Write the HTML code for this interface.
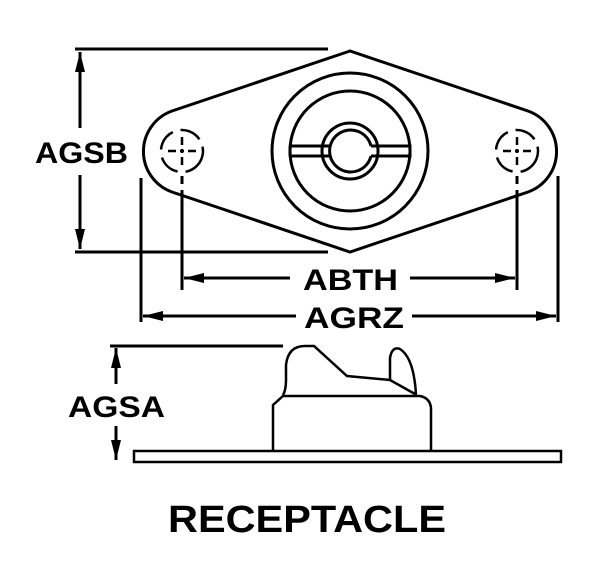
<!DOCTYPE html>
<html><head><style>body{margin:0;background:#fff}</style></head><body>
<svg width="603" height="569" viewBox="0 0 603 569" xmlns="http://www.w3.org/2000/svg" font-family="Liberation Sans, sans-serif" font-weight="bold">
<defs><marker id="b" viewBox="0 0 20 10" markerWidth="20" markerHeight="10" refX="20" refY="5" orient="auto" markerUnits="userSpaceOnUse"><path d="M0,0 L20,5 L0,10 Z" fill="#000"/></marker></defs>
<g fill="none" stroke="#000" stroke-width="3">
<line x1="75" y1="49" x2="328" y2="49"/><line x1="75" y1="252" x2="328" y2="252"/>
<line x1="80" y1="70" x2="80" y2="52" marker-end="url(#b)"/><line x1="80" y1="230" x2="80" y2="249" marker-end="url(#b)"/>
<line x1="80" y1="70" x2="80" y2="128"/><line x1="80" y1="175" x2="80" y2="230"/>
<path d="M350,51 L172,111 A43,43 0 0 0 172,192 L350,252 L528,192 A43,43 0 0 0 528,111 Z"/>
<circle cx="350" cy="151" r="78"/><circle cx="350" cy="151" r="60"/>
<circle cx="350" cy="151" r="28"/><path d="M371,146 A21,21 0 1 0 371,156"/>
<path d="M290,146 H329 M290,156 H329 M290,146 V156 M371,146 H410 V156 H371"/>
<g stroke-width="2.5"><circle cx="182" cy="151" r="21" stroke-dasharray="22,8" transform="rotate(20 182 151)"/><circle cx="517" cy="151" r="21" stroke-dasharray="22,8" transform="rotate(20 517 151)"/>
<path d="M168,151h8M180,151h4M188,151h8M182,137v8M182,149v4M182,157v8M503,151h8M515,151h4M523,151h8M517,137v8M517,149v4M517,157v8"/></g>
<line x1="141" y1="178" x2="141" y2="322"/><line x1="558" y1="176" x2="558" y2="322"/>
<line x1="182" y1="176" x2="182" y2="184"/><line x1="182" y1="190" x2="182" y2="290"/>
<line x1="517" y1="176" x2="517" y2="184"/><line x1="517" y1="190" x2="517" y2="290"/>
<line x1="200" y1="278" x2="184" y2="278" marker-end="url(#b)"/><line x1="200" y1="278" x2="290" y2="278"/>
<line x1="500" y1="278" x2="515" y2="278" marker-end="url(#b)"/><line x1="410" y1="278" x2="500" y2="278"/>
<line x1="160" y1="316" x2="143" y2="316" marker-end="url(#b)"/><line x1="160" y1="316" x2="296" y2="316"/>
<line x1="540" y1="316" x2="556" y2="316" marker-end="url(#b)"/><line x1="412" y1="316" x2="540" y2="316"/>
<line x1="110" y1="346" x2="283" y2="346"/>
<line x1="116" y1="368" x2="116" y2="348" marker-end="url(#b)"/><line x1="116" y1="368" x2="116" y2="384"/>
<line x1="116" y1="440" x2="116" y2="460" marker-end="url(#b)"/><line x1="116" y1="426" x2="116" y2="440"/>
<rect x="134" y="451" width="427" height="11" stroke-width="2.5"/>
<path d="M273,451 V405 L283,396 H420 Q430,398 431,408 V451" stroke-width="2.5"/>
<path d="M283,395 Q286,390 286,380 V365 Q288,346 305,346 H314 L347,376 L390,380 L415,394 M390,380 V358 Q392,346 400,349 Q414,358 416,395" stroke-width="2.5"/>
</g>
<g font-size="30">
<text x="35" y="163" textLength="93" lengthAdjust="spacingAndGlyphs">AGSB</text>
<text x="303" y="290" textLength="95" lengthAdjust="spacingAndGlyphs">ABTH</text>
<text x="304" y="328" textLength="100" lengthAdjust="spacingAndGlyphs">AGRZ</text>
<text x="68" y="417" textLength="97" lengthAdjust="spacingAndGlyphs">AGSA</text>
<text x="168" y="532" font-size="38" textLength="278" lengthAdjust="spacingAndGlyphs">RECEPTACLE</text></g>
</svg></body></html>
